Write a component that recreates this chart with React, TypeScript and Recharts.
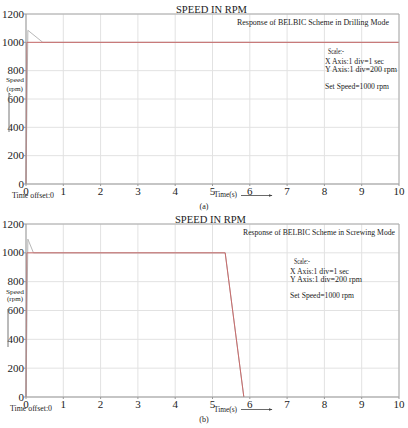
import React from "react";
import {
  LineChart,
  Line,
  XAxis,
  YAxis,
  CartesianGrid,
} from "recharts";

// time (s) and speed (rpm)
const timeTicks = [0, 1, 2, 3, 4, 5, 6, 7, 8, 9, 10];
const speedTicks = [0, 200, 400, 600, 800, 1000, 1200];

const drillSetTime = [0, 0.02, 10];
const drillSetSpeed = [0, 1000, 1000];
const drillActTime = [0, 0.05, 0.45, 10];
const drillActSpeed = [0, 1085, 1000, 1000];

const screwSetTime = [0, 0.02, 5.34, 5.84];
const screwSetSpeed = [0, 1000, 1000, 0];
const screwActTime = [0, 0.05, 0.2, 5.34, 5.84];
const screwActSpeed = [0, 1095, 1000, 1000, 0];

const FONT = '"Liberation Serif", "DejaVu Serif", serif';
const INK = "#222";

const zip = (t: number[], v: number[]) => t.map((x, i) => ({ t: x, v: v[i] }));

const XTick = ({ x, y, payload }: any) => (
  <text x={x} y={y + 9} textAnchor="middle" fontSize={11} fontFamily={FONT} fill={INK}>
    {payload.value}
  </text>
);

const YTick = ({ x, y, payload }: any) => (
  <text x={x} y={y + 3.5} textAnchor="end" fontSize={11} fontFamily={FONT} fill={INK}>
    {payload.value}
  </text>
);

interface Note {
  x: number;
  y: number;
  text: string;
  size: number;
  w?: number;
  anchor?: "start" | "middle" | "end";
}

interface PanelProps {
  height: number;
  marginTop: number;
  marginBottom: number;
  setData: { t: number; v: number }[];
  actData: { t: number; v: number }[];
  notes: Note[];
  vArrow: [number, number, number]; // x, yBottom, yTop
  hArrow: [number, number, number]; // x1, x2, y
  id: string;
}

function SpeedPanel({
  height,
  marginTop,
  marginBottom,
  setData,
  actData,
  notes,
  vArrow,
  hArrow,
  id,
}: PanelProps) {
  return (
    <div style={{ position: "relative", width: 408, height, fontFamily: FONT }}>
      <LineChart
        width={408}
        height={height}
        margin={{ top: marginTop, right: 9, bottom: marginBottom, left: 0 }}
      >
        <CartesianGrid stroke="#e2e2e2" />
        <XAxis
          dataKey="t"
          type="number"
          domain={[0, 10]}
          ticks={timeTicks}
          height={20}
          tickSize={2}
          tickMargin={0}
          stroke="#999"
          tick={<XTick />}
          allowDuplicatedCategory={false}
        />
        <XAxis
          xAxisId="top"
          orientation="top"
          type="number"
          domain={[0, 10]}
          ticks={timeTicks}
          height={1}
          mirror
          tickSize={3}
          tick={false}
          stroke="#aaa"
        />
        <YAxis
          type="number"
          domain={[0, 1200]}
          ticks={speedTicks}
          width={26}
          tickSize={2}
          tickMargin={0}
          stroke="#999"
          tick={<YTick />}
        />
        <YAxis
          yAxisId="right"
          orientation="right"
          type="number"
          domain={[0, 1200]}
          ticks={speedTicks}
          width={1}
          mirror
          tickSize={3}
          tick={false}
          stroke="#aaa"
        />
        <Line
          data={actData}
          dataKey="v"
          type="linear"
          stroke="#b8b8b8"
          strokeWidth={1}
          dot={false}
          isAnimationActive={false}
        />
        <Line
          data={setData}
          dataKey="v"
          type="linear"
          stroke="#c96b6b"
          strokeWidth={1}
          dot={false}
          isAnimationActive={false}
        />
      </LineChart>
      <svg
        width={408}
        height={height}
        style={{ position: "absolute", left: 0, top: 0, pointerEvents: "none" }}
      >
        <defs>
          <marker
            id={`ah-${id}`}
            markerWidth="4"
            markerHeight="3"
            refX="3.5"
            refY="1.5"
            orient="auto"
            markerUnits="userSpaceOnUse"
          >
            <path d="M0,0 L4,1.5 L0,3 z" fill="#444" />
          </marker>
        </defs>
        {notes.map((n, i) => (
          <text
            key={i}
            x={n.x}
            y={n.y}
            fontSize={n.size}
            fontFamily={FONT}
            fill={INK}
            textAnchor={n.anchor || "start"}
            textLength={n.w}
            lengthAdjust={n.w ? "spacingAndGlyphs" : undefined}
          >
            {n.text}
          </text>
        ))}
        <line
          x1={vArrow[0]}
          y1={vArrow[1]}
          x2={vArrow[0]}
          y2={vArrow[2]}
          stroke="#777"
          strokeWidth={1}
        />
        <line
          x1={vArrow[0]}
          y1={vArrow[2]}
          x2={vArrow[0] + 1.5}
          y2={vArrow[2] + 2}
          stroke="#777"
          strokeWidth={1}
        />
        <line
          x1={hArrow[0]}
          y1={hArrow[2]}
          x2={hArrow[1]}
          y2={hArrow[2]}
          stroke="#444"
          strokeWidth={0.8}
          markerEnd={`url(#ah-${id})`}
        />
      </svg>
    </div>
  );
}

const drillNotes: Note[] = [
  { x: 176, y: 13, text: "SPEED IN RPM", size: 10.5, w: 71 },
  { x: 237, y: 25, text: "Response of BELBIC Scheme in Drilling Mode", size: 8.5, w: 152 },
  { x: 328, y: 54, text: "Scale:-", size: 8, w: 16 },
  { x: 325, y: 63.5, text: "X Axis:1 div=1 sec", size: 8, w: 59 },
  { x: 325, y: 72, text: "Y Axis:1 div=200 rpm", size: 8, w: 72 },
  { x: 325, y: 88.5, text: "Set Speed=1000 rpm", size: 8, w: 64 },
  { x: 6, y: 81.5, text: "Speed", size: 7, w: 18 },
  { x: 6.5, y: 90.5, text: "(rpm)", size: 7, w: 16.5 },
  { x: 12, y: 198, text: "Time offset:0", size: 7.5, w: 42 },
  { x: 214, y: 197, text: "Time(s)", size: 7.5, w: 23 },
  { x: 204, y: 209, text: "(a)", size: 8, anchor: "middle" },
];

const screwNotes: Note[] = [
  { x: 175, y: 11, text: "SPEED IN RPM", size: 10.5, w: 71 },
  { x: 243, y: 23, text: "Response of BELBIC Scheme in Screwing Mode", size: 8.5, w: 152 },
  { x: 294, y: 52, text: "Scale:-", size: 8, w: 16 },
  { x: 290, y: 62, text: "X Axis:1 div=1 sec", size: 8, w: 59 },
  { x: 290, y: 70, text: "Y Axis:1 div=200 rpm", size: 8, w: 72 },
  { x: 290, y: 85.5, text: "Set Speed=1000 rpm", size: 8, w: 64 },
  { x: 6, y: 81.5, text: "Speed", size: 7, w: 18 },
  { x: 7, y: 88.5, text: "(rpm)", size: 7, w: 16 },
  { x: 10, y: 198.5, text: "Time offset:0", size: 7.5, w: 42 },
  { x: 214, y: 199.5, text: "Time(s)", size: 7.5, w: 23 },
  { x: 204, y: 210, text: "(b)", size: 8, anchor: "middle" },
];

export default function App() {
  return (
    <div
      style={{
        position: "absolute",
        left: 0,
        top: 0,
        width: 408,
        height: 428,
        background: "#fff",
      }}
    >
      <SpeedPanel
        id="a"
        height={212}
        marginTop={14}
        marginBottom={8}
        setData={zip(drillSetTime, drillSetSpeed)}
        actData={zip(drillActTime, drillActSpeed)}
        notes={drillNotes}
        vArrow={[9, 132, 93]}
        hArrow={[241, 272, 195.5]}
      />
      <SpeedPanel
        id="b"
        height={216}
        marginTop={12}
        marginBottom={11}
        setData={zip(screwSetTime, screwSetSpeed)}
        actData={zip(screwActTime, screwActSpeed)}
        notes={screwNotes}
        vArrow={[8, 135, 97]}
        hArrow={[241, 272, 197.5]}
      />
    </div>
  );
}
